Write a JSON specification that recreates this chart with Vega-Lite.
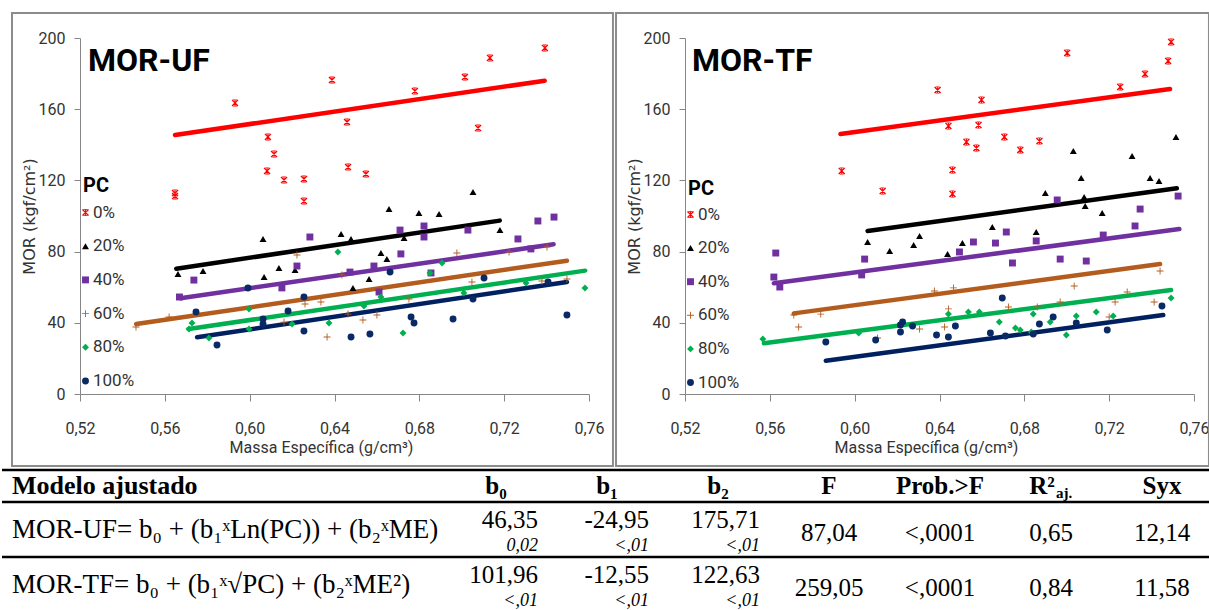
{
"$schema":"https://vega.github.io/schema/vega-lite/v6.json",
"padding":{"left":0,"top":12,"right":0,"bottom":0},
"autosize":{"type":"pad"},
"background":"white",
"config":{
 "view":{"stroke":null},
 "axis":{"grid":false,"domainColor":"#868686","tickColor":"#868686","labelColor":"#333333","titleColor":"#333333","labelFont":"Roboto","labelFontSize":16,"titleFontWeight":"normal","labelFlush":false,"labelOverlap":false,"labelBound":false},
 "legend":{"titleFont":"Roboto","titleFontSize":20,"titleFontWeight":"bold","titleColor":"#000000","labelFont":"Roboto","labelFontSize":17,"labelColor":"#333333","symbolSize":48,"symbolOpacity":1,"symbolStrokeWidth":0}
},
"datasets":{
"pts":[
{"panel":"UF","PC":"0%","ME":0.5648,"MOR":112.9},{"panel":"UF","PC":"0%","ME":0.5648,"MOR":111.2},{"panel":"UF","PC":"0%","ME":0.5931,"MOR":163.5},{"panel":"UF","PC":"0%","ME":0.6086,"MOR":144.4},{"panel":"UF","PC":"0%","ME":0.6115,"MOR":134.8},{"panel":"UF","PC":"0%","ME":0.6082,"MOR":125.3},{"panel":"UF","PC":"0%","ME":0.6162,"MOR":120.2},{"panel":"UF","PC":"0%","ME":0.6256,"MOR":120.8},{"panel":"UF","PC":"0%","ME":0.6256,"MOR":108.4},{"panel":"UF","PC":"0%","ME":0.6388,"MOR":176.4},{"panel":"UF","PC":"0%","ME":0.6459,"MOR":152.8},{"panel":"UF","PC":"0%","ME":0.6464,"MOR":127.5},{"panel":"UF","PC":"0%","ME":0.6548,"MOR":123.6},{"panel":"UF","PC":"0%","ME":0.6779,"MOR":170.2},{"panel":"UF","PC":"0%","ME":0.7015,"MOR":178.1},{"panel":"UF","PC":"0%","ME":0.7077,"MOR":149.4},{"panel":"UF","PC":"0%","ME":0.7133,"MOR":188.8},{"panel":"UF","PC":"0%","ME":0.7392,"MOR":194.4},
{"panel":"UF","PC":"20%","ME":0.5662,"MOR":67.4},{"panel":"UF","PC":"20%","ME":0.578,"MOR":69.1},{"panel":"UF","PC":"20%","ME":0.6063,"MOR":87.1},{"panel":"UF","PC":"20%","ME":0.6068,"MOR":65.7},{"panel":"UF","PC":"20%","ME":0.6138,"MOR":70.8},{"panel":"UF","PC":"20%","ME":0.6214,"MOR":69.7},{"panel":"UF","PC":"20%","ME":0.6431,"MOR":89.9},{"panel":"UF","PC":"20%","ME":0.6478,"MOR":87.1},{"panel":"UF","PC":"20%","ME":0.6487,"MOR":59.6},{"panel":"UF","PC":"20%","ME":0.6563,"MOR":64.6},{"panel":"UF","PC":"20%","ME":0.6619,"MOR":79.2},{"panel":"UF","PC":"20%","ME":0.6647,"MOR":75.8},{"panel":"UF","PC":"20%","ME":0.6657,"MOR":103.9},{"panel":"UF","PC":"20%","ME":0.6728,"MOR":87.6},{"panel":"UF","PC":"20%","ME":0.6798,"MOR":101.7},{"panel":"UF","PC":"20%","ME":0.6893,"MOR":101.1},{"panel":"UF","PC":"20%","ME":0.7053,"MOR":113.5},{"panel":"UF","PC":"20%","ME":0.718,"MOR":92.1},
{"panel":"UF","PC":"40%","ME":0.5669,"MOR":54.5},{"panel":"UF","PC":"40%","ME":0.5737,"MOR":64.0},{"panel":"UF","PC":"40%","ME":0.6152,"MOR":59.6},{"panel":"UF","PC":"40%","ME":0.6223,"MOR":71.9},{"panel":"UF","PC":"40%","ME":0.6284,"MOR":88.2},{"panel":"UF","PC":"40%","ME":0.6473,"MOR":68.5},{"panel":"UF","PC":"40%","ME":0.6586,"MOR":71.9},{"panel":"UF","PC":"40%","ME":0.661,"MOR":57.3},{"panel":"UF","PC":"40%","ME":0.6709,"MOR":92.1},{"panel":"UF","PC":"40%","ME":0.6713,"MOR":78.7},{"panel":"UF","PC":"40%","ME":0.6822,"MOR":94.4},{"panel":"UF","PC":"40%","ME":0.6822,"MOR":88.2},{"panel":"UF","PC":"40%","ME":0.6855,"MOR":68.0},{"panel":"UF","PC":"40%","ME":0.7029,"MOR":92.1},{"panel":"UF","PC":"40%","ME":0.7265,"MOR":87.1},{"panel":"UF","PC":"40%","ME":0.7326,"MOR":81.5},{"panel":"UF","PC":"40%","ME":0.7359,"MOR":97.2},{"panel":"UF","PC":"40%","ME":0.7435,"MOR":99.4},
{"panel":"UF","PC":"60%","ME":0.5464,"MOR":37.6},{"panel":"UF","PC":"60%","ME":0.562,"MOR":43.3},{"panel":"UF","PC":"60%","ME":0.6162,"MOR":40.4},{"panel":"UF","PC":"60%","ME":0.6223,"MOR":78.1},{"panel":"UF","PC":"60%","ME":0.6261,"MOR":50.6},{"panel":"UF","PC":"60%","ME":0.6336,"MOR":51.7},{"panel":"UF","PC":"60%","ME":0.6365,"MOR":32.0},{"panel":"UF","PC":"60%","ME":0.6435,"MOR":66.9},{"panel":"UF","PC":"60%","ME":0.6464,"MOR":44.9},{"panel":"UF","PC":"60%","ME":0.6534,"MOR":41.6},{"panel":"UF","PC":"60%","ME":0.66,"MOR":44.4},{"panel":"UF","PC":"60%","ME":0.6751,"MOR":53.4},{"panel":"UF","PC":"60%","ME":0.6977,"MOR":79.2},{"panel":"UF","PC":"60%","ME":0.7048,"MOR":62.9},{"panel":"UF","PC":"60%","ME":0.7223,"MOR":79.8},{"panel":"UF","PC":"60%","ME":0.7378,"MOR":63.5},{"panel":"UF","PC":"60%","ME":0.7402,"MOR":82.6},{"panel":"UF","PC":"60%","ME":0.7496,"MOR":64.6},
{"panel":"UF","PC":"80%","ME":0.5714,"MOR":36.5},{"panel":"UF","PC":"80%","ME":0.5728,"MOR":39.9},{"panel":"UF","PC":"80%","ME":0.5808,"MOR":31.5},{"panel":"UF","PC":"80%","ME":0.5997,"MOR":47.8},{"panel":"UF","PC":"80%","ME":0.5997,"MOR":36.5},{"panel":"UF","PC":"80%","ME":0.62,"MOR":39.3},{"panel":"UF","PC":"80%","ME":0.6374,"MOR":39.9},{"panel":"UF","PC":"80%","ME":0.6416,"MOR":79.8},{"panel":"UF","PC":"80%","ME":0.6539,"MOR":49.4},{"panel":"UF","PC":"80%","ME":0.6619,"MOR":54.5},{"panel":"UF","PC":"80%","ME":0.6723,"MOR":34.3},{"panel":"UF","PC":"80%","ME":0.685,"MOR":68.0},{"panel":"UF","PC":"80%","ME":0.6907,"MOR":73.6},{"panel":"UF","PC":"80%","ME":0.701,"MOR":56.7},{"panel":"UF","PC":"80%","ME":0.7303,"MOR":62.4},{"panel":"UF","PC":"80%","ME":0.7581,"MOR":59.6},
{"panel":"UF","PC":"100%","ME":0.5747,"MOR":46.1},{"panel":"UF","PC":"100%","ME":0.5846,"MOR":27.5},{"panel":"UF","PC":"100%","ME":0.5992,"MOR":59.6},{"panel":"UF","PC":"100%","ME":0.6063,"MOR":42.1},{"panel":"UF","PC":"100%","ME":0.6063,"MOR":39.3},{"panel":"UF","PC":"100%","ME":0.6181,"MOR":46.6},{"panel":"UF","PC":"100%","ME":0.6256,"MOR":54.5},{"panel":"UF","PC":"100%","ME":0.6256,"MOR":35.4},{"panel":"UF","PC":"100%","ME":0.6478,"MOR":32.0},{"panel":"UF","PC":"100%","ME":0.6567,"MOR":33.7},{"panel":"UF","PC":"100%","ME":0.6662,"MOR":68.5},{"panel":"UF","PC":"100%","ME":0.6761,"MOR":43.3},{"panel":"UF","PC":"100%","ME":0.6775,"MOR":39.9},{"panel":"UF","PC":"100%","ME":0.6959,"MOR":42.1},{"panel":"UF","PC":"100%","ME":0.7053,"MOR":53.4},{"panel":"UF","PC":"100%","ME":0.7105,"MOR":65.2},{"panel":"UF","PC":"100%","ME":0.7407,"MOR":62.9},{"panel":"UF","PC":"100%","ME":0.7496,"MOR":44.4},
{"panel":"TF","PC":"0%","ME":0.5939,"MOR":125.3},{"panel":"TF","PC":"0%","ME":0.6132,"MOR":114.0},{"panel":"TF","PC":"0%","ME":0.6391,"MOR":170.8},{"panel":"TF","PC":"0%","ME":0.6442,"MOR":150.6},{"panel":"TF","PC":"0%","ME":0.6461,"MOR":125.8},{"panel":"TF","PC":"0%","ME":0.6461,"MOR":112.4},{"panel":"TF","PC":"0%","ME":0.6527,"MOR":141.6},{"panel":"TF","PC":"0%","ME":0.6574,"MOR":138.2},{"panel":"TF","PC":"0%","ME":0.6584,"MOR":151.1},{"panel":"TF","PC":"0%","ME":0.6598,"MOR":165.2},{"panel":"TF","PC":"0%","ME":0.6706,"MOR":144.4},{"panel":"TF","PC":"0%","ME":0.6781,"MOR":137.1},{"panel":"TF","PC":"0%","ME":0.6871,"MOR":142.1},{"panel":"TF","PC":"0%","ME":0.7002,"MOR":191.6},{"panel":"TF","PC":"0%","ME":0.7252,"MOR":172.5},{"panel":"TF","PC":"0%","ME":0.7369,"MOR":179.8},{"panel":"TF","PC":"0%","ME":0.7478,"MOR":187.1},{"panel":"TF","PC":"0%","ME":0.7492,"MOR":197.8},
{"panel":"TF","PC":"20%","ME":0.6061,"MOR":85.4},{"panel":"TF","PC":"20%","ME":0.6165,"MOR":80.3},{"panel":"TF","PC":"20%","ME":0.6278,"MOR":83.7},{"panel":"TF","PC":"20%","ME":0.6306,"MOR":88.8},{"panel":"TF","PC":"20%","ME":0.6438,"MOR":78.7},{"panel":"TF","PC":"20%","ME":0.6508,"MOR":84.8},{"panel":"TF","PC":"20%","ME":0.6649,"MOR":93.8},{"panel":"TF","PC":"20%","ME":0.6856,"MOR":91.0},{"panel":"TF","PC":"20%","ME":0.6899,"MOR":112.9},{"panel":"TF","PC":"20%","ME":0.7031,"MOR":136.5},{"panel":"TF","PC":"20%","ME":0.7068,"MOR":121.3},{"panel":"TF","PC":"20%","ME":0.7082,"MOR":110.7},{"panel":"TF","PC":"20%","ME":0.7087,"MOR":105.6},{"panel":"TF","PC":"20%","ME":0.7167,"MOR":101.7},{"panel":"TF","PC":"20%","ME":0.7308,"MOR":133.7},{"panel":"TF","PC":"20%","ME":0.7393,"MOR":121.3},{"panel":"TF","PC":"20%","ME":0.7435,"MOR":119.7},{"panel":"TF","PC":"20%","ME":0.7515,"MOR":144.4},
{"panel":"TF","PC":"40%","ME":0.5619,"MOR":65.7},{"panel":"TF","PC":"40%","ME":0.5628,"MOR":79.2},{"panel":"TF","PC":"40%","ME":0.5647,"MOR":60.1},{"panel":"TF","PC":"40%","ME":0.6033,"MOR":66.9},{"panel":"TF","PC":"40%","ME":0.6047,"MOR":75.8},{"panel":"TF","PC":"40%","ME":0.6494,"MOR":79.8},{"panel":"TF","PC":"40%","ME":0.656,"MOR":85.4},{"panel":"TF","PC":"40%","ME":0.6664,"MOR":84.8},{"panel":"TF","PC":"40%","ME":0.6715,"MOR":91.0},{"panel":"TF","PC":"40%","ME":0.6744,"MOR":73.6},{"panel":"TF","PC":"40%","ME":0.6856,"MOR":86.0},{"panel":"TF","PC":"40%","ME":0.6955,"MOR":109.0},{"panel":"TF","PC":"40%","ME":0.6969,"MOR":75.8},{"panel":"TF","PC":"40%","ME":0.7092,"MOR":74.7},{"panel":"TF","PC":"40%","ME":0.7172,"MOR":89.3},{"panel":"TF","PC":"40%","ME":0.7322,"MOR":94.4},{"panel":"TF","PC":"40%","ME":0.7346,"MOR":103.9},{"panel":"TF","PC":"40%","ME":0.7525,"MOR":111.2},
{"panel":"TF","PC":"60%","ME":0.5713,"MOR":44.4},{"panel":"TF","PC":"60%","ME":0.5736,"MOR":37.6},{"panel":"TF","PC":"60%","ME":0.584,"MOR":44.9},{"panel":"TF","PC":"60%","ME":0.6108,"MOR":31.5},{"panel":"TF","PC":"60%","ME":0.6306,"MOR":36.5},{"panel":"TF","PC":"60%","ME":0.6376,"MOR":57.9},{"panel":"TF","PC":"60%","ME":0.6424,"MOR":37.6},{"panel":"TF","PC":"60%","ME":0.6442,"MOR":47.8},{"panel":"TF","PC":"60%","ME":0.6466,"MOR":59.6},{"panel":"TF","PC":"60%","ME":0.6725,"MOR":48.9},{"panel":"TF","PC":"60%","ME":0.6861,"MOR":48.9},{"panel":"TF","PC":"60%","ME":0.6969,"MOR":51.7},{"panel":"TF","PC":"60%","ME":0.7035,"MOR":60.7},{"panel":"TF","PC":"60%","ME":0.72,"MOR":43.3},{"panel":"TF","PC":"60%","ME":0.7228,"MOR":51.7},{"panel":"TF","PC":"60%","ME":0.7285,"MOR":57.3},{"panel":"TF","PC":"60%","ME":0.7412,"MOR":51.7},{"panel":"TF","PC":"60%","ME":0.744,"MOR":69.1},
{"panel":"TF","PC":"80%","ME":0.5567,"MOR":30.9},{"panel":"TF","PC":"80%","ME":0.6019,"MOR":34.3},{"panel":"TF","PC":"80%","ME":0.6442,"MOR":44.9},{"panel":"TF","PC":"80%","ME":0.6536,"MOR":46.1},{"panel":"TF","PC":"80%","ME":0.6588,"MOR":46.1},{"panel":"TF","PC":"80%","ME":0.6682,"MOR":40.4},{"panel":"TF","PC":"80%","ME":0.6758,"MOR":37.1},{"panel":"TF","PC":"80%","ME":0.6781,"MOR":36.0},{"panel":"TF","PC":"80%","ME":0.6833,"MOR":34.8},{"panel":"TF","PC":"80%","ME":0.6842,"MOR":44.9},{"panel":"TF","PC":"80%","ME":0.6922,"MOR":40.4},{"panel":"TF","PC":"80%","ME":0.6998,"MOR":33.1},{"panel":"TF","PC":"80%","ME":0.7045,"MOR":43.8},{"panel":"TF","PC":"80%","ME":0.7139,"MOR":46.1},{"panel":"TF","PC":"80%","ME":0.7219,"MOR":43.8},{"panel":"TF","PC":"80%","ME":0.7492,"MOR":53.9},
{"panel":"TF","PC":"100%","ME":0.5864,"MOR":29.2},{"panel":"TF","PC":"100%","ME":0.6099,"MOR":30.3},{"panel":"TF","PC":"100%","ME":0.6216,"MOR":38.8},{"panel":"TF","PC":"100%","ME":0.6226,"MOR":40.4},{"panel":"TF","PC":"100%","ME":0.6216,"MOR":34.8},{"panel":"TF","PC":"100%","ME":0.6273,"MOR":38.2},{"panel":"TF","PC":"100%","ME":0.6386,"MOR":33.1},{"panel":"TF","PC":"100%","ME":0.6442,"MOR":32.0},{"panel":"TF","PC":"100%","ME":0.6475,"MOR":38.2},{"panel":"TF","PC":"100%","ME":0.664,"MOR":34.3},{"panel":"TF","PC":"100%","ME":0.6696,"MOR":53.9},{"panel":"TF","PC":"100%","ME":0.6711,"MOR":32.6},{"panel":"TF","PC":"100%","ME":0.6842,"MOR":33.7},{"panel":"TF","PC":"100%","ME":0.6871,"MOR":39.3},{"panel":"TF","PC":"100%","ME":0.6936,"MOR":43.3},{"panel":"TF","PC":"100%","ME":0.7045,"MOR":39.9},{"panel":"TF","PC":"100%","ME":0.7191,"MOR":36.0},{"panel":"TF","PC":"100%","ME":0.7449,"MOR":49.4}
],
"fits":[
{"panel":"UF","PC":"0%","ME":0.5648,"MOR":145.5},{"panel":"UF","PC":"0%","ME":0.7391,"MOR":176.0},
{"panel":"UF","PC":"20%","ME":0.5654,"MOR":70.4},{"panel":"UF","PC":"20%","ME":0.7179,"MOR":97.4},
{"panel":"UF","PC":"40%","ME":0.5673,"MOR":53.8},{"panel":"UF","PC":"40%","ME":0.7433,"MOR":84.1},
{"panel":"UF","PC":"60%","ME":0.5465,"MOR":39.3},{"panel":"UF","PC":"60%","ME":0.7496,"MOR":74.9},
{"panel":"UF","PC":"80%","ME":0.5712,"MOR":36.5},{"panel":"UF","PC":"80%","ME":0.7582,"MOR":69.3},
{"panel":"UF","PC":"100%","ME":0.5752,"MOR":31.9},{"panel":"UF","PC":"100%","ME":0.7496,"MOR":62.9},
{"panel":"TF","PC":"0%","ME":0.5933,"MOR":146.1},{"panel":"TF","PC":"0%","ME":0.7487,"MOR":171.3},
{"panel":"TF","PC":"20%","ME":0.6061,"MOR":91.6},{"panel":"TF","PC":"20%","ME":0.7519,"MOR":115.6},
{"panel":"TF","PC":"40%","ME":0.5619,"MOR":62.2},{"panel":"TF","PC":"40%","ME":0.7531,"MOR":92.7},
{"panel":"TF","PC":"60%","ME":0.5713,"MOR":45.3},{"panel":"TF","PC":"60%","ME":0.744,"MOR":73.0},
{"panel":"TF","PC":"80%","ME":0.5572,"MOR":28.5},{"panel":"TF","PC":"80%","ME":0.7492,"MOR":58.4},
{"panel":"TF","PC":"100%","ME":0.5864,"MOR":18.7},{"panel":"TF","PC":"100%","ME":0.7455,"MOR":44.4}
],
"hdr":[
{"row":"header","col":"Modelo ajustado","label":"Modelo ajustado"},
{"row":"header","col":"b0","label":"b₀"},
{"row":"header","col":"b1","label":"b₁"},
{"row":"header","col":"b2","label":"b₂"},
{"row":"header","col":"F","label":"F"},
{"row":"header","col":"Prob.>F","label":"Prob.>F"},
{"row":"header","col":"R2","label":"R²"},
{"row":"header","col":"Syx","label":"Syx"}
],
"tbl":[
{"row":"MOR-UF","col":"Modelo ajustado","value":"MOR-UF= b₀ + (b₁ˣLn(PC)) + (b₂ˣME)"},
{"row":"MOR-UF","col":"b0","value":"46,35","p":"0,02"},
{"row":"MOR-UF","col":"b1","value":"-24,95","p":"<,01"},
{"row":"MOR-UF","col":"b2","value":"175,71","p":"<,01"},
{"row":"MOR-UF","col":"F","value":"87,04"},
{"row":"MOR-UF","col":"Prob.>F","value":"<,0001"},
{"row":"MOR-UF","col":"R2","value":"0,65"},
{"row":"MOR-UF","col":"Syx","value":"12,14"},
{"row":"MOR-TF","col":"Modelo ajustado","value":"MOR-TF= b₀ + (b₁ˣ√PC) + (b₂ˣME²)"},
{"row":"MOR-TF","col":"b0","value":"101,96","p":"<,01"},
{"row":"MOR-TF","col":"b1","value":"-12,55","p":"<,01"},
{"row":"MOR-TF","col":"b2","value":"122,63","p":"<,01"},
{"row":"MOR-TF","col":"F","value":"259,05"},
{"row":"MOR-TF","col":"Prob.>F","value":"<,0001"},
{"row":"MOR-TF","col":"R2","value":"0,84"},
{"row":"MOR-TF","col":"Syx","value":"11,58"}
]
},
"spacing":0,
"vconcat":[
{
"hconcat":[
{
"width":509,"height":356,
"layer":[
{"data":{"values":[{}]},"mark":{"type":"rect","opacity":0,"clip":false},
"encoding":{"x":{"datum":0.48323,"type":"quantitative","title":"Massa Específica (g/cm³)","scale":{"domain":[0.52,0.76],"nice":false,"zero":false}},"x2":{"datum":0.52},"y":{"datum":20,"type":"quantitative","title":"MOR (kgf/cm²)","scale":{"domain":[0,200],"nice":false,"zero":false}},"y2":{"datum":180}}},
{"data":{"values":[{}]},"mark":{"type":"rect","filled":false,"stroke":"#8c8c8c","strokeWidth":2,"clip":false},
"encoding":{"x":{"datum":0.48794,"type":"quantitative","title":"Massa Específica (g/cm³)"},"x2":{"datum":0.7713},"y":{"datum":214.04,"type":"quantitative","title":"MOR (kgf/cm²)"},"y2":{"datum":-40.45}}},
{"data":{"values":[{}]},"mark":{"type":"text","align":"left","baseline":"alphabetic","font":"Roboto","fontSize":32,"fontWeight":"bold","color":"#000000","clip":false},
"encoding":{"x":{"datum":0.52377,"type":"quantitative","title":"Massa Específica (g/cm³)"},"y":{"datum":181.2,"type":"quantitative","title":"MOR (kgf/cm²)"},"text":{"value":"MOR-UF"}}},
{"data":{"name":"fits"},"transform":[{"filter":"datum.panel==='UF'"}],"mark":{"type":"line","strokeWidth":4.5,"strokeCap":"round","clip":false},
"encoding":{"x":{"field":"ME","type":"quantitative","title":"Massa Específica (g/cm³)"},"y":{"field":"MOR","type":"quantitative","title":"MOR (kgf/cm²)"},"stroke":{"field":"PC","type":"nominal","scale":{"domain":["100%","80%","60%","40%","20%","0%"],"range":["#002060","#00B050","#B35C1E","#7030A0","#000000","#FF0000"]},"legend":null}}},
{"data":{"name":"pts"},"transform":[{"filter":"datum.panel==='UF'"}],"mark":{"type":"point","filled":true,"opacity":1,"size":48,"clip":false},
"encoding":{
"x":{"field":"ME","type":"quantitative","title":"Massa Específica (g/cm³)","axis":{"values":[0.52,0.56,0.6,0.64,0.68,0.72,0.76],"labelExpr":"replace(format(datum.value,'.2f'),'.',',')","tickSize":7,"labelPadding":19,"titlePadding":3,"titleX":241,"titleFont":"Roboto","titleFontSize":16}},
"y":{"field":"MOR","type":"quantitative","title":"MOR (kgf/cm²)","axis":{"values":[0,40,80,120,160,200],"tickSize":6,"labelPadding":9,"titlePadding":1,"titleFont":"DejaVu Sans","titleFontSize":16}},
"color":{"field":"PC","type":"nominal","scale":{"domain":["0%","20%","40%","60%","80%","100%"],"range":["#FF0000","#000000","#7030A0","#B35C1E","#00B050","#0A2A66"]},
 "legend":{"title":"PC","orient":"none","legendX":3,"legendY":138,"titlePadding":8,"rowPadding":15.7,"symbolOffset":-6,"labelOffset":-1,"titleFontSize":20,"labelFontSize":17}},
"shape":{"field":"PC","type":"nominal","scale":{"domain":["0%","20%","40%","60%","80%","100%"],"range":["M-0.75,-1L1,0.75L0.75,1L-1,-0.75Z M0.75,-1L1,-0.75L-0.75,1L-1,0.75Z M-0.13,-1L0.13,-1L0.13,1L-0.13,1Z M-0.55,-1L0.55,-1L0.55,-0.8L-0.55,-0.8Z M-0.55,0.8L0.55,0.8L0.55,1L-0.55,1Z","triangle-up","square","M-1,-0.13L1,-0.13L1,0.13L-1,0.13Z M-0.13,-1L0.13,-1L0.13,1L-0.13,1Z","diamond","circle"]},
 "legend":{"title":"PC","orient":"none","legendX":3,"legendY":138,"titlePadding":8,"rowPadding":15.7,"symbolOffset":-6,"labelOffset":-1,"titleFontSize":20,"labelFontSize":17}}
}}
]
},
{
"width":509,"height":356,
"layer":[
{"data":{"values":[{}]},"mark":{"type":"rect","filled":false,"stroke":"#8c8c8c","strokeWidth":2,"clip":false},
"encoding":{"x":{"datum":0.48747,"type":"quantitative","title":"Massa Específica (g/cm³)","scale":{"domain":[0.52,0.76],"nice":false,"zero":false}},"x2":{"datum":0.76705},"y":{"datum":214.04,"type":"quantitative","title":"MOR (kgf/cm²)","scale":{"domain":[0,200],"nice":false,"zero":false}},"y2":{"datum":-40.45}}},
{"data":{"values":[{}]},"mark":{"type":"text","align":"left","baseline":"alphabetic","font":"Roboto","fontSize":32,"fontWeight":"bold","color":"#000000","clip":false},
"encoding":{"x":{"datum":0.5233,"type":"quantitative","title":"Massa Específica (g/cm³)"},"y":{"datum":181.2,"type":"quantitative","title":"MOR (kgf/cm²)"},"text":{"value":"MOR-TF"}}},
{"data":{"name":"fits"},"transform":[{"filter":"datum.panel==='TF'"}],"mark":{"type":"line","strokeWidth":4.5,"strokeCap":"round","clip":false},
"encoding":{"x":{"field":"ME","type":"quantitative","title":"Massa Específica (g/cm³)"},"y":{"field":"MOR","type":"quantitative","title":"MOR (kgf/cm²)"},"stroke":{"field":"PC","type":"nominal","scale":{"domain":["100%","80%","60%","40%","20%","0%"],"range":["#002060","#00B050","#B35C1E","#7030A0","#000000","#FF0000"]},"legend":null}}},
{"data":{"name":"pts"},"transform":[{"filter":"datum.panel==='TF'"}],"mark":{"type":"point","filled":true,"opacity":1,"size":48,"clip":false},
"encoding":{
"x":{"field":"ME","type":"quantitative","title":"Massa Específica (g/cm³)","axis":{"values":[0.52,0.56,0.6,0.64,0.68,0.72,0.76],"labelExpr":"replace(format(datum.value,'.2f'),'.',',')","tickSize":7,"labelPadding":19,"titlePadding":3,"titleX":241,"titleFont":"Roboto","titleFontSize":16}},
"y":{"field":"MOR","type":"quantitative","title":"MOR (kgf/cm²)","axis":{"values":[0,40,80,120,160,200],"tickSize":6,"labelPadding":9,"titlePadding":1,"titleFont":"DejaVu Sans","titleFontSize":16}},
"color":{"field":"PC","type":"nominal","scale":{"domain":["0%","20%","40%","60%","80%","100%"],"range":["#FF0000","#000000","#7030A0","#B35C1E","#00B050","#0A2A66"]},
 "legend":{"title":"PC","orient":"none","legendX":3,"legendY":141,"titlePadding":7,"rowPadding":15.6,"symbolOffset":-6,"labelOffset":-1,"titleFontSize":20,"labelFontSize":17}},
"shape":{"field":"PC","type":"nominal","scale":{"domain":["0%","20%","40%","60%","80%","100%"],"range":["M-0.75,-1L1,0.75L0.75,1L-1,-0.75Z M0.75,-1L1,-0.75L-0.75,1L-1,0.75Z M-0.13,-1L0.13,-1L0.13,1L-0.13,1Z M-0.55,-1L0.55,-1L0.55,-0.8L-0.55,-0.8Z M-0.55,0.8L0.55,0.8L0.55,1L-0.55,1Z","triangle-up","square","M-1,-0.13L1,-0.13L1,0.13L-1,0.13Z M-0.13,-1L0.13,-1L0.13,1L-0.13,1Z","diamond","circle"]},
 "legend":{"title":"PC","orient":"none","legendX":3,"legendY":141,"titlePadding":7,"rowPadding":15.6,"symbolOffset":-6,"labelOffset":-1,"titleFontSize":20,"labelFontSize":17}}
}}
]
}
],
"spacing":96,
"bounds":"flush",
"resolve":{"scale":{"x":"independent","y":"independent","color":"independent","shape":"independent","stroke":"independent"},"legend":{"color":"independent","shape":"independent"},"axis":{"x":"independent","y":"independent"}}
},
{
"width":1130,"height":142,
"resolve":{"scale":{"x":"independent"}},
"layer":[
{"data":{"values":[{}]},"mark":{"type":"rule","color":"#000000","strokeWidth":2.5,"yOffset":-8},
"encoding":{"x":{"datum":0,"type":"quantitative","scale":{"domain":[0,1],"range":[-78,1130]},"axis":null},"x2":{"datum":1},"y":{"datum":"header","type":"nominal","scale":{"type":"point","domain":["header","MOR-UF","MOR-TF"],"range":[8,118],"padding":0},"axis":null}}},
{"data":{"values":[{"row":"MOR-UF"},{"row":"MOR-TF"}]},"mark":{"type":"rule","color":"#000000","strokeWidth":2.5,"yOffset":-31},
"encoding":{"x":{"datum":0,"type":"quantitative","scale":{"domain":[0,1],"range":[-78,1130]},"axis":null},"x2":{"datum":1},"y":{"field":"row","type":"nominal","axis":null}}},
{"data":{"name":"hdr"},"transform":[{"filter":"datum.col==='Modelo ajustado'"}],"mark":{"type":"text","align":"left","baseline":"middle","dx":-373,"dy":8,"font":"Liberation Serif","fontSize":26,"fontWeight":"bold","color":"#000000"},
"encoding":{"x":{"field":"col","type":"nominal","scale":{"type":"point","domain":["Modelo ajustado","b0","b1","b2","F","Prob.>F","R2","Syx"],"range":[305,1082],"padding":0},"axis":null},"y":{"field":"row","type":"nominal","axis":null},"text":{"field":"label"}}},
{"data":{"name":"hdr"},"transform":[{"filter":"datum.col!=='Modelo ajustado' && datum.col!=='R2'"}],"mark":{"type":"text","align":"center","baseline":"middle","dy":8,"font":"Liberation Serif","fontSize":25,"fontWeight":"bold","color":"#000000"},
"encoding":{"x":{"field":"col","type":"nominal","scale":{"type":"point","domain":["Modelo ajustado","b0","b1","b2","F","Prob.>F","R2","Syx"],"range":[305,1082],"padding":0},"axis":null},"y":{"field":"row","type":"nominal","axis":null},"text":{"field":"label"}}},
{"data":{"name":"hdr"},"transform":[{"filter":"datum.col==='R2'"}],"mark":{"type":"text","align":"center","baseline":"middle","dx":-9,"dy":8,"font":"Liberation Serif","fontSize":25,"fontWeight":"bold","color":"#000000"},
"encoding":{"x":{"field":"col","type":"nominal","scale":{"type":"point","domain":["Modelo ajustado","b0","b1","b2","F","Prob.>F","R2","Syx"],"range":[305,1082],"padding":0},"axis":null},"y":{"field":"row","type":"nominal","axis":null},"text":{"field":"label"}}},
{"data":{"name":"hdr"},"transform":[{"filter":"datum.col==='R2'"}],"mark":{"type":"text","align":"left","baseline":"middle","dx":5,"dy":15,"font":"Liberation Serif","fontSize":15,"fontWeight":"bold","color":"#000000"},
"encoding":{"x":{"field":"col","type":"nominal","scale":{"type":"point","domain":["Modelo ajustado","b0","b1","b2","F","Prob.>F","R2","Syx"],"range":[305,1082],"padding":0},"axis":null},"y":{"field":"row","type":"nominal","axis":null},"text":{"value":"aj."}}},
{"data":{"name":"tbl"},"transform":[{"filter":"datum.col==='Modelo ajustado'"}],"mark":{"type":"text","align":"left","baseline":"middle","dx":-373,"dy":-3.5,"font":"Liberation Serif","fontSize":27,"color":"#000000"},
"encoding":{"x":{"field":"col","type":"nominal","scale":{"type":"point","domain":["Modelo ajustado","b0","b1","b2","F","Prob.>F","R2","Syx"],"range":[305,1082],"padding":0},"axis":null},"y":{"field":"row","type":"nominal","axis":null},"text":{"field":"value"}}},
{"data":{"name":"tbl"},"transform":[{"filter":"indexof(['b0','b1','b2'], datum.col) >= 0"}],"mark":{"type":"text","align":"right","baseline":"middle","dx":42,"dy":-13.5,"font":"Liberation Serif","fontSize":25,"color":"#000000"},
"encoding":{"x":{"field":"col","type":"nominal","scale":{"type":"point","domain":["Modelo ajustado","b0","b1","b2","F","Prob.>F","R2","Syx"],"range":[305,1082],"padding":0},"axis":null},"y":{"field":"row","type":"nominal","axis":null},"text":{"field":"value"}}},
{"data":{"name":"tbl"},"transform":[{"filter":"indexof(['b0','b1','b2'], datum.col) >= 0"}],"mark":{"type":"text","align":"right","baseline":"middle","dx":42,"dy":13,"font":"Liberation Serif","fontSize":18,"fontStyle":"italic","color":"#000000"},
"encoding":{"x":{"field":"col","type":"nominal","scale":{"type":"point","domain":["Modelo ajustado","b0","b1","b2","F","Prob.>F","R2","Syx"],"range":[305,1082],"padding":0},"axis":null},"y":{"field":"row","type":"nominal","axis":null},"text":{"field":"p"}}},
{"data":{"name":"tbl"},"transform":[{"filter":"indexof(['F','Prob.>F','R2','Syx'], datum.col) >= 0"}],"mark":{"type":"text","align":"center","baseline":"middle","font":"Liberation Serif","fontSize":25,"color":"#000000"},
"encoding":{"x":{"field":"col","type":"nominal","scale":{"type":"point","domain":["Modelo ajustado","b0","b1","b2","F","Prob.>F","R2","Syx"],"range":[305,1082],"padding":0},"axis":null},"y":{"field":"row","type":"nominal","axis":null},"text":{"field":"value"}}}
]
}
]
}
